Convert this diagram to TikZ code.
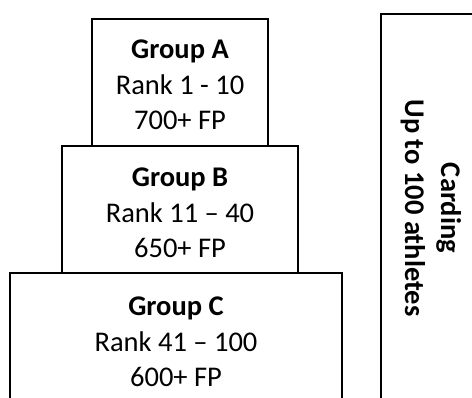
\documentclass[tikz,border=0pt]{standalone}
\usepackage{fontspec}
\setmainfont{Carlito}
\begin{document}
\begin{tikzpicture}[x=1pt,y=-1pt,
  box/.style={draw, line width=1.6pt, fill=white},
  lbl/.style={align=center, font=\fontsize{28.5}{35.5}\selectfont, inner sep=0pt}]
\useasboundingbox (0,0) rectangle (472,397);
\clip (0,0) rectangle (472,397);
\draw[box] (10,273) rectangle (342,410);
\draw[box] (62,146) rectangle (298,273);
\draw[box] (92,19) rectangle (268,146);
\draw[box] (381,14) rectangle (480,410);
\node[lbl] (a) at (180,85) {\textbf{Group A}\\Rank 1 - 10\\700+ FP};
\node[lbl] (b) at (180,213) {\textbf{Group B}\\Rank 11 – 40\\650+ FP};
\node[lbl] (c) at (176,342) {\textbf{Group C}\\Rank 41 – 100\\600+ FP};
\node[lbl, rotate=-90, font=\fontsize{28.5}{36}\selectfont\bfseries] (d) at (431,208) {Carding\\Up to 100 athletes};
\end{tikzpicture}
\end{document}
